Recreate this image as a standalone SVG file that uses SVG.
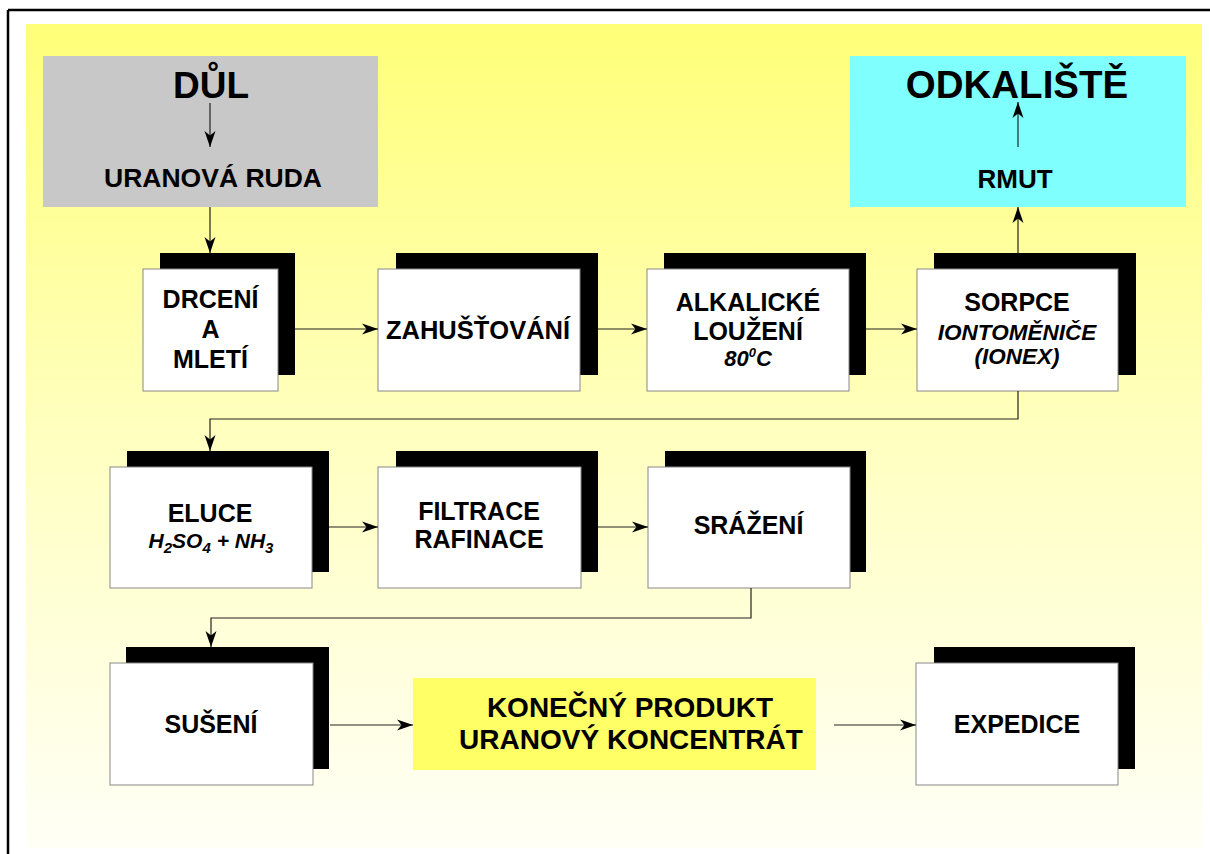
<svg xmlns="http://www.w3.org/2000/svg" width="1210" height="854" viewBox="0 0 1210 854">
<defs>
<linearGradient id="bg" x1="0" y1="0" x2="0" y2="1">
<stop offset="0" stop-color="#FFFF78"/>
<stop offset="0.5" stop-color="#FFFFC0"/>
<stop offset="1" stop-color="#FFFFF6"/>
</linearGradient>
<marker id="ah" markerUnits="userSpaceOnUse" markerWidth="18" markerHeight="12" refX="16" refY="6" orient="auto">
<path d="M0,0.5 L16,6 L0,11.5 L4.5,6 Z" fill="#000"/>
</marker>
<style>
.t{font-family:"Liberation Sans",Arial,sans-serif;font-weight:bold;fill:#000;text-anchor:middle;font-size:25px}
.it{font-style:italic}
.sh{fill:#000}
.bx{fill:#fff;stroke:#888;stroke-width:1}
.c{fill:none;stroke:#222;stroke-width:1.2}
</style>
</defs>
<rect x="0" y="0" width="1210" height="854" fill="#fff"/>
<rect x="26" y="24" width="1176" height="824" fill="url(#bg)"/>
<path d="M8,10 H1210 M8,10 V854" fill="none" stroke="#000" stroke-width="2.5"/>

<g id="dul">
<rect x="43" y="56" width="335" height="151" fill="#C8C8C8"/>
<text class="t" x="211" y="98" style="font-size:37px">DŮL</text>
<text class="t" x="213" y="187" style="font-size:26.5px">URANOVÁ RUDA</text>
</g>
<g id="odkaliste">
<rect x="850" y="56" width="336" height="151" fill="#80FFFF"/>
<text class="t" x="1017" y="98" style="font-size:38.5px">ODKALIŠTĚ</text>
<text class="t" x="1015" y="188" style="font-size:26px">RMUT</text>
</g>

<g id="drceni">
<rect class="sh" x="160" y="253" width="135" height="122"/>
<rect class="bx" x="143" y="269" width="135" height="122"/>
<text class="t" x="210.5" y="308">DRCENÍ</text>
<text class="t" x="210.5" y="338">A</text>
<text class="t" x="210.5" y="368">MLETÍ</text>
</g>
<g id="zahustovani">
<rect class="sh" x="396" y="253" width="202" height="122"/>
<rect class="bx" x="378" y="269" width="202" height="122"/>
<text class="t" x="478" y="339" style="font-size:25.5px">ZAHUŠŤOVÁNÍ</text>
</g>
<g id="alkalicke">
<rect class="sh" x="664" y="253" width="202" height="122"/>
<rect class="bx" x="647" y="269" width="202" height="122"/>
<text class="t" x="748" y="311">ALKALICKÉ</text>
<text class="t" x="748" y="340">LOUŽENÍ</text>
<text class="t it" x="748" y="366" style="font-size:22px">80<tspan style="font-size:13px" dy="-9">0</tspan><tspan dy="9">C</tspan></text>
</g>
<g id="sorpce">
<rect class="sh" x="934" y="253" width="202" height="122"/>
<rect class="bx" x="917" y="269" width="201" height="122"/>
<text class="t" x="1017" y="311">SORPCE</text>
<text class="t it" x="1017" y="340" style="font-size:22.5px">IONTOMĚNIČE</text>
<text class="t it" x="1017" y="364" style="font-size:22.5px">(IONEX)</text>
</g>

<g id="eluce">
<rect class="sh" x="127" y="451" width="202" height="121"/>
<rect class="bx" x="110" y="467" width="202" height="121"/>
<text class="t" x="210" y="522">ELUCE</text>
<text class="t it" x="211" y="548" style="font-size:21px">H<tspan style="font-size:15px" dy="5">2</tspan><tspan dy="-5">SO</tspan><tspan style="font-size:15px" dy="5">4</tspan><tspan dy="-5"> + NH</tspan><tspan style="font-size:15px" dy="5">3</tspan></text>
</g>
<g id="filtrace">
<rect class="sh" x="396" y="451" width="202" height="121"/>
<rect class="bx" x="378" y="467" width="203" height="121"/>
<text class="t" x="479" y="520">FILTRACE</text>
<text class="t" x="479" y="548">RAFINACE</text>
</g>
<g id="srazeni">
<rect class="sh" x="665" y="451" width="201" height="121"/>
<rect class="bx" x="648" y="467" width="202" height="121"/>
<text class="t" x="748.5" y="534">SRÁŽENÍ</text>
</g>

<g id="suseni">
<rect class="sh" x="126" y="647" width="203" height="122"/>
<rect class="bx" x="110" y="663" width="203" height="122"/>
<text class="t" x="211" y="733">SUŠENÍ</text>
</g>
<g id="produkt">
<rect x="413" y="678" width="403" height="92" fill="#FFFF66"/>
<text class="t" x="630" y="717" style="font-size:28px">KONEČNÝ PRODUKT</text>
<text class="t" x="631" y="749" style="font-size:28px">URANOVÝ KONCENTRÁT</text>
</g>
<g id="expedice">
<rect class="sh" x="934" y="647" width="201" height="122"/>
<rect class="bx" x="916" y="663" width="202" height="122"/>
<text class="t" x="1017" y="733">EXPEDICE</text>
</g>

<g id="connectors">
<path class="c" marker-end="url(#ah)" d="M210,103 V147"/>
<path class="c" marker-end="url(#ah)" d="M210,207 V253"/>
<path class="c" marker-end="url(#ah)" d="M295,329 H378"/>
<path class="c" marker-end="url(#ah)" d="M598,329 H647"/>
<path class="c" marker-end="url(#ah)" d="M866,329 H917"/>
<path class="c" marker-end="url(#ah)" d="M1018,253 V207"/>
<path class="c" marker-end="url(#ah)" d="M1018,147 V102"/>
<path class="c" marker-end="url(#ah)" d="M1018,391 V419 H210 V451"/>
<path class="c" marker-end="url(#ah)" d="M329,527 H378"/>
<path class="c" marker-end="url(#ah)" d="M598,527 H648"/>
<path class="c" marker-end="url(#ah)" d="M751,588 V618 H211 V647"/>
<path class="c" marker-end="url(#ah)" d="M330,725 H413"/>
<path class="c" marker-end="url(#ah)" d="M834,725 H916"/>
</g>
</svg>
